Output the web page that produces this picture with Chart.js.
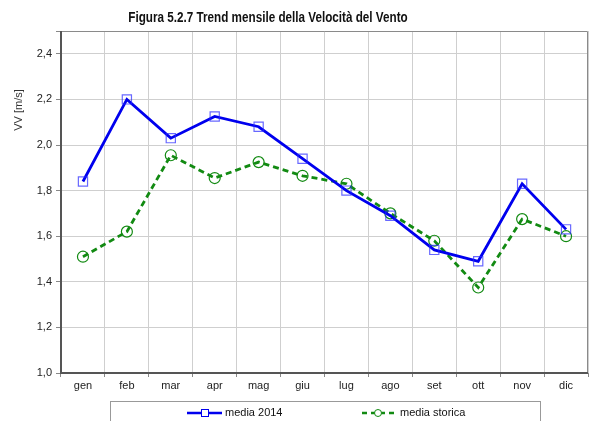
<!DOCTYPE html>
<html>
<head>
<meta charset="utf-8">
<script src="https://cdn.jsdelivr.net/npm/chart.js@4.4.1/dist/chart.umd.min.js"></script>
<style>
  html, body { margin: 0; padding: 0; background: #fff; }
  #wrap { width: 589px; height: 421px; position: relative; }
</style>
</head>
<body>
<div id="wrap"><canvas id="windChart"></canvas></div>
<script>
// Chart data
const months = ['gen', 'feb', 'mar', 'apr', 'mag', 'giu', 'lug', 'ago', 'set', 'ott', 'nov', 'dic'];
const media2014 = [1.84, 2.20, 2.03, 2.125, 2.08, 1.94, 1.80, 1.69, 1.54, 1.49, 1.83, 1.63];
const mediaStorica = [1.51, 1.62, 1.955, 1.855, 1.925, 1.865, 1.83, 1.70, 1.58, 1.375, 1.675, 1.60];
const titleText = 'Figura 5.2.7 Trend mensile della Velocità del Vento';
const yTitle = 'VV [m/s]';

const blue = '#0000ee';
const green = '#128a12';

// Draws the title, the y axis title, the plot frame and the boxed legend
const decorations = {
    id: 'decorations',
    afterDraw(chart) {
        const ctx = chart.ctx;
        const area = chart.chartArea;
        ctx.save();

        // frame: thin grey on top/right, darker on left/bottom
        ctx.strokeStyle = '#8a8a8a';
        ctx.lineWidth = 1;
        ctx.beginPath();
        ctx.moveTo(area.left, area.top + 0.5);
        ctx.lineTo(area.right - 0.5, area.top + 0.5);
        ctx.lineTo(area.right - 0.5, area.bottom);
        ctx.stroke();
        ctx.strokeStyle = '#555';
        ctx.lineWidth = 2;
        ctx.beginPath();
        ctx.moveTo(area.left, area.top);
        ctx.lineTo(area.left, area.bottom);
        ctx.lineTo(area.right, area.bottom);
        ctx.stroke();

        // title (bold face, squeezed horizontally like the narrow original)
        ctx.fillStyle = '#111';
        ctx.font = 'bold 14px "Liberation Sans", Arial, sans-serif';
        ctx.textAlign = 'center';
        ctx.textBaseline = 'alphabetic';
        ctx.translate(268, 22);
        ctx.scale(0.835, 1);
        ctx.fillText(titleText, 0, 0);
        ctx.setTransform(1, 0, 0, 1, 0, 0);

        // y axis title
        ctx.font = '11px "Liberation Sans", Arial, sans-serif';
        ctx.fillStyle = '#333';
        ctx.translate(19, 110);
        ctx.rotate(-Math.PI / 2);
        ctx.textAlign = 'center';
        ctx.textBaseline = 'middle';
        ctx.fillText(yTitle, 0, 0);
        ctx.setTransform(1, 0, 0, 1, 0, 0);

        // legend box
        ctx.strokeStyle = '#999';
        ctx.lineWidth = 1;
        ctx.strokeRect(110.5, 401.5, 430, 30);

        const ly = 413;
        ctx.font = '11px "Liberation Sans", Arial, sans-serif';
        ctx.textAlign = 'left';
        ctx.textBaseline = 'middle';

        // media 2014
        ctx.strokeStyle = blue;
        ctx.lineWidth = 2.5;
        ctx.beginPath();
        ctx.moveTo(187, ly);
        ctx.lineTo(222, ly);
        ctx.stroke();
        ctx.lineWidth = 1;
        ctx.fillStyle = '#fff';
        ctx.fillRect(201.5, ly - 3.5, 7, 7);
        ctx.strokeRect(201.5, ly - 3.5, 7, 7);
        ctx.fillStyle = '#111';
        ctx.fillText(chart.data.datasets[0].label, 225, ly);

        // media storica
        ctx.strokeStyle = green;
        ctx.lineWidth = 2.5;
        ctx.setLineDash([5, 4]);
        ctx.beginPath();
        ctx.moveTo(362, ly);
        ctx.lineTo(397, ly);
        ctx.stroke();
        ctx.setLineDash([]);
        ctx.lineWidth = 1;
        ctx.beginPath();
        ctx.arc(378, ly, 3.5, 0, Math.PI * 2);
        ctx.fillStyle = '#fff';
        ctx.fill();
        ctx.stroke();
        ctx.fillStyle = '#111';
        ctx.fillText(chart.data.datasets[1].label, 400, ly);

        ctx.restore();
    }
};

const ctx = document.getElementById('windChart').getContext('2d');
const windChart = new Chart(ctx, {
    type: 'line',
    data: {
        labels: months,
        datasets: [
            {
                label: 'media 2014',
                data: media2014,
                borderColor: blue,
                borderWidth: 2.8,
                pointStyle: 'rect',
                pointRadius: 6.5,
                pointBorderWidth: 1.2,
                pointBorderColor: 'rgba(40, 40, 255, 0.7)',
                pointBackgroundColor: 'rgba(255, 255, 255, 0)',
                tension: 0
            },
            {
                label: 'media storica',
                data: mediaStorica,
                borderColor: green,
                borderWidth: 2.8,
                borderDash: [6, 4],
                pointStyle: 'circle',
                pointRadius: 5.5,
                pointBorderWidth: 1.2,
                pointBorderColor: green,
                pointBackgroundColor: 'rgba(255, 255, 255, 0)',
                tension: 0
            }
        ]
    },
    options: {
        responsive: true,
        maintainAspectRatio: false,
        animation: false,
        layout: {
            autoPadding: false,
            padding: { top: 31, right: 1, left: 0, bottom: 0 }
        },
        scales: {
            x: {
                offset: true,
                grid: {
                    offset: true,
                    color: '#cfcfcf',
                    lineWidth: 1,
                    tickLength: 4,
                    tickColor: '#888'
                },
                border: { display: false },
                ticks: {
                    color: '#222',
                    font: { family: '"Liberation Sans", Arial, sans-serif', size: 11 },
                    padding: 2,
                    maxRotation: 0,
                    autoSkip: false
                },
                afterFit: function(scale) {
                    scale.height = 48;
                    scale.paddingLeft = 0;
                    scale.paddingRight = 0;
                }
            },
            y: {
                min: 1.0,
                max: 2.5,
                grid: {
                    color: function(c) { return c.tick.value >= 2.45 ? 'rgba(0,0,0,0)' : '#cfcfcf'; },
                    lineWidth: 1,
                    tickLength: 5,
                    tickColor: '#888'
                },
                border: { display: false },
                ticks: {
                    stepSize: 0.2,
                    color: '#222',
                    font: { family: '"Liberation Sans", Arial, sans-serif', size: 11 },
                    padding: 4,
                    callback: function(value) {
                        if (Math.abs(value - 2.5) < 0.001) return '';
                        return value.toFixed(1).replace('.', ',');
                    }
                },
                afterFit: function(scale) {
                    scale.width = 61;
                    scale.paddingTop = 0;
                    scale.paddingBottom = 0;
                }
            }
        },
        plugins: {
            legend: { display: false },
            title: { display: false },
            tooltip: { enabled: false }
        }
    },
    plugins: [decorations]
});
</script>
</body>
</html>
